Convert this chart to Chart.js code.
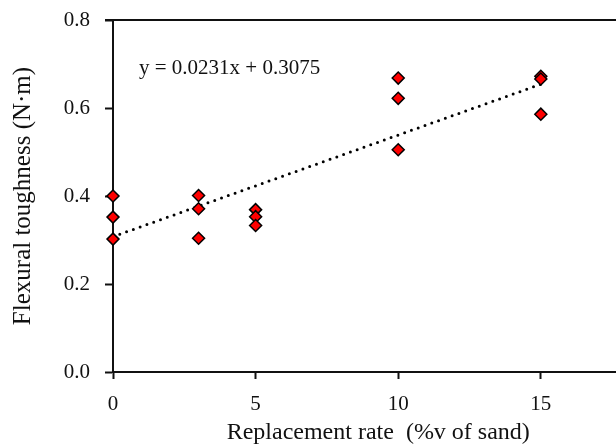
<!DOCTYPE html>
<html>
<head>
<meta charset="utf-8">
<script src="https://cdn.jsdelivr.net/npm/chart.js@4"></script>
<style>
  html, body { margin: 0; padding: 0; background: #fff; overflow: hidden; }
</style>
</head>
<body>
<canvas id="toughnessChart" width="651" height="447"></canvas>
<script>
// measured values
const rateX = [0, 0, 0, 3, 3, 3, 5, 5, 5, 10, 10, 10, 15, 15, 15];
const toughness = [0.400, 0.352, 0.302, 0.401, 0.371, 0.304, 0.369, 0.353, 0.333,
                   0.668, 0.622, 0.505, 0.672, 0.666, 0.586];
// linear trend line y = 0.0231x + 0.3075 (end points)
const trendX = [0, 15];
const trendY = [0.3075, 0.654];
const trendLabel = 'y = 0.0231x + 0.3075';
const xTicks = [0, 5, 10, 15];
const yTicks = [0, 0.2, 0.4, 0.6, 0.8];

const fontFamily = "'Liberation Serif', 'Times New Roman', serif";
const ink = '#111';

// top frame line + equation text
const extras = {
    id: 'extras',
    afterDraw(chart) {
        const ctx = chart.ctx;
        const area = chart.chartArea;
        ctx.save();
        ctx.strokeStyle = ink;
        ctx.lineWidth = 2;
        ctx.beginPath();
        ctx.moveTo(area.left - 8, area.top);
        ctx.lineTo(area.right, area.top);
        ctx.stroke();

        ctx.fillStyle = ink;
        ctx.font = '21px ' + fontFamily;
        ctx.textAlign = 'left';
        ctx.textBaseline = 'middle';
        ctx.fillText(trendLabel, chart.scales.x.getPixelForValue(0.91), chart.scales.y.getPixelForValue(0.69));
        ctx.restore();
    }
};

document.addEventListener('DOMContentLoaded', function () {
    const ctx = document.getElementById('toughnessChart');
    new Chart(ctx, {
        type: 'scatter',
        data: {
            datasets: [{
                label: 'Trend',
                type: 'line',
                data: trendX.map((x, i) => ({ x: x, y: trendY[i] })),
                borderColor: '#000',
                borderWidth: 3,
                borderDash: [0, 7.2],
                borderCapStyle: 'round',
                pointRadius: 0,
                fill: false,
                order: 2
            }, {
                label: 'Flexural toughness',
                data: rateX.map((x, i) => ({ x: x, y: toughness[i] })),
                pointStyle: 'rectRot',
                pointRadius: 6,
                pointHoverRadius: 6,
                backgroundColor: '#ff0000',
                borderColor: '#000',
                borderWidth: 1.5,
                clip: false,
                order: 1
            }]
        },
        options: {
            responsive: false,
            animation: false,
            layout: {
                padding: { top: 20, right: 0, bottom: 0, left: 0 }
            },
            plugins: {
                legend: { display: false },
                tooltip: { enabled: false }
            },
            scales: {
                x: {
                    type: 'linear',
                    min: 0,
                    max: 18.6,
                    afterBuildTicks: function (scale) {
                        scale.ticks = xTicks.map(v => ({ value: v }));
                    },
                    afterFit: function (scale) {
                        scale.height = 75;
                        scale.paddingRight = 0;
                    },
                    ticks: {
                        color: ink,
                        font: { family: fontFamily, size: 21 },
                        padding: 13,
                        maxRotation: 0
                    },
                    grid: {
                        drawOnChartArea: false,
                        drawTicks: true,
                        tickLength: 7,
                        tickColor: ink,
                        tickWidth: 2
                    },
                    border: { display: true, color: ink, width: 2 },
                    title: {
                        display: true,
                        text: 'Replacement rate  (%v of sand)',
                        color: ink,
                        font: { family: fontFamily, size: 24 },
                        padding: { top: 0, bottom: 0 }
                    }
                },
                y: {
                    min: 0,
                    max: 0.8,
                    afterBuildTicks: function (scale) {
                        scale.ticks = yTicks.map(v => ({ value: v }));
                    },
                    afterFit: function (scale) {
                        scale.width = 113;
                        scale.paddingTop = 0;
                        scale.paddingBottom = 0;
                    },
                    ticks: {
                        color: ink,
                        font: { family: fontFamily, size: 21 },
                        padding: 15,
                        callback: v => v.toFixed(1)
                    },
                    grid: {
                        drawOnChartArea: false,
                        drawTicks: true,
                        tickLength: 8,
                        tickColor: ink,
                        tickWidth: 2
                    },
                    border: { display: true, color: ink, width: 2 },
                    title: {
                        display: true,
                        text: 'Flexural toughness (N·m)',
                        color: ink,
                        font: { family: fontFamily, size: 25 },
                        padding: { top: 8, bottom: 0 }
                    }
                }
            }
        },
        plugins: [extras]
    });
});
</script>
</body>
</html>
